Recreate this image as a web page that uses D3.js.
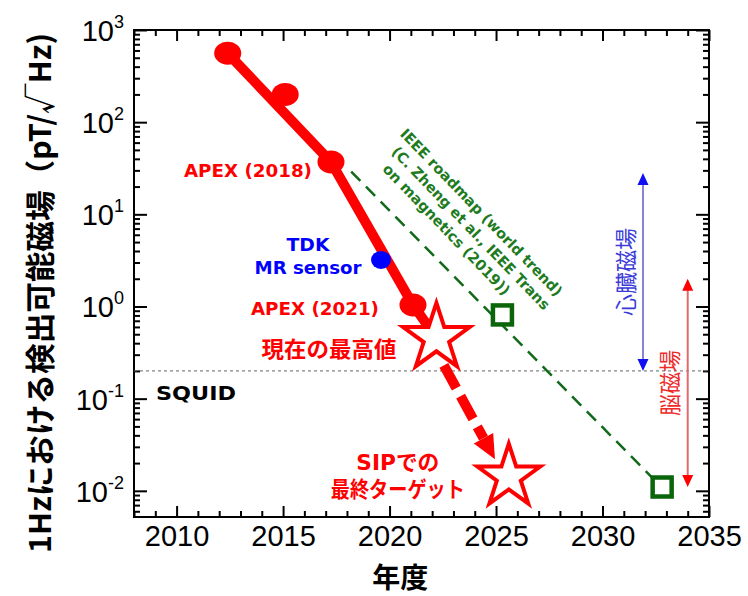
<!DOCTYPE html>
<html>
<head>
<meta charset="utf-8">
<script src="https://cdn.jsdelivr.net/npm/d3@7"></script>
<style>
body { margin: 0; background: #fff; }
svg { display: block; }
.ax path { display: none; }
.ax line { stroke: #000; stroke-width: 2; }
</style>
</head>
<body>
<div id="chart"></div>
<script>
// values
var xMajorTicks = [2010, 2015, 2020, 2025, 2030, 2035];
var yDecades = [0.01, 0.1, 1, 10, 100, 1000];
var yExponents = ["-2", "-1", "0", "1", "2", "3"];

var apexYear = [2012.4, 2015.1, 2017.25, 2021.1];
var apexValue = [560, 200, 37, 1.04];
var apexTrendYear = [2012.4, 2017.25, 2021.1, 2022.2];
var apexTrendValue = [560, 37, 1.04, 0.456];
var tdkYear = [2019.6];
var tdkValue = [3.2];
var starYear = [2022.2, 2025.6];
var starValue = [0.456, 0.0142];
var targetArrowYear = [2022.55, 2024.95];
var targetArrowValue = [0.23, 0.022];
var ieeeYear = [2018.2, 2032.6];
var ieeeValue = [29, 0.012];
var ieeeSquareYear = [2025.3, 2032.8];
var ieeeSquareValue = [0.81, 0.011];
var squidValue = 0.2;
var heartYear = 2031.9, heartRange = [0.2, 28];
var brainYear = 2034.0, brainRange = [0.011, 2];

var ieeeLines = ["IEEE roadmap (world trend)", "(C. Zheng et al., IEEE Trans", "on magnetics (2019))"];

var margin = {top: 30, right: 39, bottom: 79, left: 134},
    width = 748 - margin.left - margin.right,
    height = 596 - margin.top - margin.bottom;

var svg = d3.select("#chart").append("svg")
    .attr("width", 748)
    .attr("height", 596);

var g = svg.append("g").attr("transform", `translate(${margin.left},${margin.top})`);

var x = d3.scaleLinear().domain([2008, 2035]).range([0, width]);
var y = d3.scaleLog().domain([0.0052, 1000]).range([height, 0]);

var minorYears = d3.range(2008, 2036).filter(d => xMajorTicks.indexOf(d) < 0);
var minorValues = [];
[0.001, 0.01, 0.1, 1, 10, 100].forEach(function(d) {
    for (var k = 2; k <= 9; k++) {
        var v = k * d;
        if (v >= y.domain()[0] && v <= 1000) minorValues.push(v);
    }
});

function tickAxis(axis, values, size, transform) {
    g.append("g")
        .attr("class", "ax")
        .attr("transform", transform || null)
        .call(axis.tickValues(values).tickSize(size).tickSizeOuter(0).tickFormat(""));
}

// inward ticks on all four sides
tickAxis(d3.axisBottom(x), xMajorTicks, -11, `translate(0,${height})`);
tickAxis(d3.axisBottom(x), minorYears, -6, `translate(0,${height})`);
tickAxis(d3.axisTop(x), xMajorTicks, -11);
tickAxis(d3.axisTop(x), minorYears, -6);
tickAxis(d3.axisLeft(y), yDecades, -13);
tickAxis(d3.axisLeft(y), minorValues, -6);
tickAxis(d3.axisRight(y), yDecades, -13, `translate(${width},0)`);
tickAxis(d3.axisRight(y), minorValues, -6, `translate(${width},0)`);

g.append("rect")
    .attr("width", width).attr("height", height)
    .attr("fill", "none").attr("stroke", "#000").attr("stroke-width", 2);

// x tick labels
g.append("g")
    .attr("transform", `translate(0,${height})`)
    .call(d3.axisBottom(x).tickValues(xMajorTicks).tickSize(0).tickPadding(8).tickFormat(d3.format("d")))
    .call(s => s.select(".domain").remove())
    .attr("font-family", "Liberation Sans, Arial, sans-serif")
    .attr("font-size", 29);

// y tick labels 10^n
var yLab = g.append("g").selectAll("text")
    .data(yDecades)
    .join("text")
    .attr("x", -10)
    .attr("y", d => y(d) + 11)
    .attr("text-anchor", "end")
    .attr("font-family", "Liberation Sans, Arial, sans-serif")
    .attr("font-size", 29);
yLab.append("tspan").text("10");
yLab.append("tspan").attr("dy", -13).attr("font-size", 18).text((d, i) => yExponents[i]);

// axis titles
svg.append("text")
    .attr("transform", "translate(38,293) rotate(-90)")
    .attr("text-anchor", "middle")
    .attr("dominant-baseline", "central")
    .attr("font-family", "Noto Sans CJK JP, sans-serif")
    .attr("font-weight", "bold")
    .attr("font-size", 30)
    .attr("textLength", 520)
    .attr("lengthAdjust", "spacingAndGlyphs")
    .text("1Hzにおける検出可能磁場（pT/√Hz)");

svg.append("text")
    .attr("x", margin.left + x(2020.5))
    .attr("y", 588)
    .attr("text-anchor", "middle")
    .attr("font-family", "Noto Sans CJK JP, sans-serif")
    .attr("font-weight", "bold")
    .attr("font-size", 28)
    .text("年度");

// SQUID level
g.append("line")
    .attr("x1", 0).attr("x2", width)
    .attr("y1", y(squidValue)).attr("y2", y(squidValue))
    .attr("stroke", "#666").attr("stroke-width", 1).attr("stroke-dasharray", "3,3");

// IEEE roadmap trend
g.append("line")
    .attr("x1", x(ieeeYear[0])).attr("y1", y(ieeeValue[0]))
    .attr("x2", x(ieeeYear[1])).attr("y2", y(ieeeValue[1]))
    .attr("stroke", "#11691a").attr("stroke-width", 2.5).attr("stroke-dasharray", "13,8");

g.selectAll("rect.ieee")
    .data(ieeeSquareYear)
    .join("rect")
    .attr("class", "ieee")
    .attr("x", d => x(d) - 9.5)
    .attr("y", (d, i) => y(ieeeSquareValue[i]) - 9.5)
    .attr("width", 19).attr("height", 19)
    .attr("fill", "#fff").attr("stroke", "#0b650b").attr("stroke-width", 4.5);

// heart / brain range arrows
function rangeArrow(year, range, lineColor, headColor) {
    var ax = x(year), top = y(range[1]), bot = y(range[0]);
    g.append("line")
        .attr("x1", ax).attr("x2", ax).attr("y1", top + 10).attr("y2", bot - 10)
        .attr("stroke", lineColor).attr("stroke-width", 2);
    g.append("path")
        .attr("d", `M${ax},${top}L${ax - 5.5},${top + 12}L${ax + 5.5},${top + 12}Z`
                 + `M${ax},${bot}L${ax - 5.5},${bot - 12}L${ax + 5.5},${bot - 12}Z`)
        .attr("fill", headColor);
    return {x: ax, mid: (top + bot) / 2};
}
var heart = rangeArrow(heartYear, heartRange, "#8585d6", "#1010f0");
var brain = rangeArrow(brainYear, brainRange, "#e36a6a", "#ff0000");

g.append("text")
    .attr("transform", `translate(${heart.x - 19},${heart.mid}) rotate(-90)`)
    .attr("text-anchor", "middle").attr("dominant-baseline", "central")
    .attr("font-family", "Noto Sans CJK JP, sans-serif")
    .attr("font-size", 22).attr("fill", "#3b3bd8")
    .text("心臓磁場");
g.append("text")
    .attr("transform", `translate(${brain.x - 20},${brain.mid}) rotate(-90)`)
    .attr("text-anchor", "middle").attr("dominant-baseline", "central")
    .attr("font-family", "Noto Sans CJK JP, sans-serif")
    .attr("font-size", 22).attr("fill", "#ee2b2b")
    .text("脳磁場");

// APEX trend line and points
var line = d3.line().x((d, i) => x(d)).y((d, i) => y(apexTrendValue[i]));
g.append("path")
    .attr("d", line(apexTrendYear))
    .attr("fill", "none").attr("stroke", "#ff0000").attr("stroke-width", 10)
    .attr("stroke-linejoin", "round");

g.selectAll("ellipse.apex")
    .data(apexYear)
    .join("ellipse")
    .attr("class", "apex")
    .attr("cx", d => x(d))
    .attr("cy", (d, i) => y(apexValue[i]))
    .attr("rx", 13.5).attr("ry", 11.5)
    .attr("fill", "#ff0000");

g.selectAll("ellipse.tdk")
    .data(tdkYear)
    .join("ellipse")
    .attr("class", "tdk")
    .attr("cx", d => x(d))
    .attr("cy", (d, i) => y(tdkValue[i]))
    .attr("rx", 10).attr("ry", 9)
    .attr("fill", "#0000ff");

// stars: current best and SIP target
var starR = [35, 33];
g.selectAll("path.star")
    .data(starYear)
    .join("path")
    .attr("class", "star")
    .attr("transform", (d, i) => `translate(${x(d)},${y(starValue[i])})`)
    .attr("d", (d, i) => d3.symbol().type(d3.symbolStar).size(starR[i] * starR[i] / 0.8908130915)())
    .attr("fill", "#fff").attr("stroke", "#ff0000").attr("stroke-width", 4);

// thick dashed arrow to the target
var ax0 = x(targetArrowYear[0]), ay0 = y(targetArrowValue[0]),
    ax1 = x(targetArrowYear[1]), ay1 = y(targetArrowValue[1]);
var ang = Math.atan2(ay1 - ay0, ax1 - ax0),
    ux = Math.cos(ang), uy = Math.sin(ang), headLen = 24, headW = 11;
g.append("line")
    .attr("x1", ax0).attr("y1", ay0)
    .attr("x2", ax1 - ux * headLen).attr("y2", ay1 - uy * headLen)
    .attr("stroke", "#ff0000").attr("stroke-width", 10).attr("stroke-dasharray", "26,9");
g.append("path")
    .attr("d", `M${ax1},${ay1}L${ax1 - ux * headLen - uy * headW},${ay1 - uy * headLen + ux * headW}`
             + `L${ax1 - ux * headLen + uy * headW},${ay1 - uy * headLen - ux * headW}Z`)
    .attr("fill", "#ff0000");

// annotations
function label(tx, ty, anchor, txt, color, size, len, family) {
    var t = g.append("text")
        .attr("x", tx).attr("y", ty)
        .attr("text-anchor", anchor)
        .attr("font-family", family || "DejaVu Sans, Verdana, sans-serif")
        .attr("font-weight", "bold")
        .attr("font-size", size)
        .attr("fill", color)
        .text(txt);
    if (len) t.attr("textLength", len).attr("lengthAdjust", "spacingAndGlyphs");
    return t;
}
var cjk = "DejaVu Sans, Noto Sans CJK JP, sans-serif";
label(x(apexYear[2]) - 19, y(apexValue[2]) + 15, "end", "APEX (2018)", "#ff0000", 18, 128);
label(x(tdkYear[0]) - 73, y(tdkValue[0]) - 9, "middle", "TDK", "#0000ff", 18, 43);
label(x(tdkYear[0]) - 73, y(tdkValue[0]) + 14, "middle", "MR sensor", "#0000ff", 18, 107);
label(x(apexYear[3]) - 98, y(apexValue[3]) + 10, "middle", "APEX (2021)", "#ff0000", 18, 128);
label(x(starYear[0]) - 40, y(starValue[0]) + 19, "end", "現在の最高値", "#ff0000", 22, 135, cjk);
label(x(2008) + 22, y(squidValue) + 29, "start", "SQUID", "#000", 20, 80);
label(x(starYear[1]) - 111, y(starValue[1]) - 7, "middle", "SIPでの", "#ff0000", 22, 83, cjk);
label(x(starYear[1]) - 111, y(starValue[1]) + 20, "middle", "最終ターゲット", "#ff0000", 22, 134, cjk);

var ieeeG = g.append("g")
    .attr("transform", `translate(${x(ieeeYear[0]) + 48},${y(ieeeValue[0]) - 37}) rotate(46)`);
var ieeeShift = [0, 7, 13], ieeeLen = [226, 220, 176];
ieeeG.selectAll("text")
    .data(ieeeLines)
    .join("text")
    .attr("x", (d, i) => ieeeShift[i])
    .attr("y", (d, i) => i * 18.5)
    .attr("font-family", "DejaVu Sans, Verdana, sans-serif")
    .attr("font-weight", "bold")
    .attr("font-size", 14.5)
    .attr("fill", "#1e7b1e")
    .attr("textLength", (d, i) => ieeeLen[i])
    .attr("lengthAdjust", "spacingAndGlyphs")
    .text(d => d);
</script>
</body>
</html>
